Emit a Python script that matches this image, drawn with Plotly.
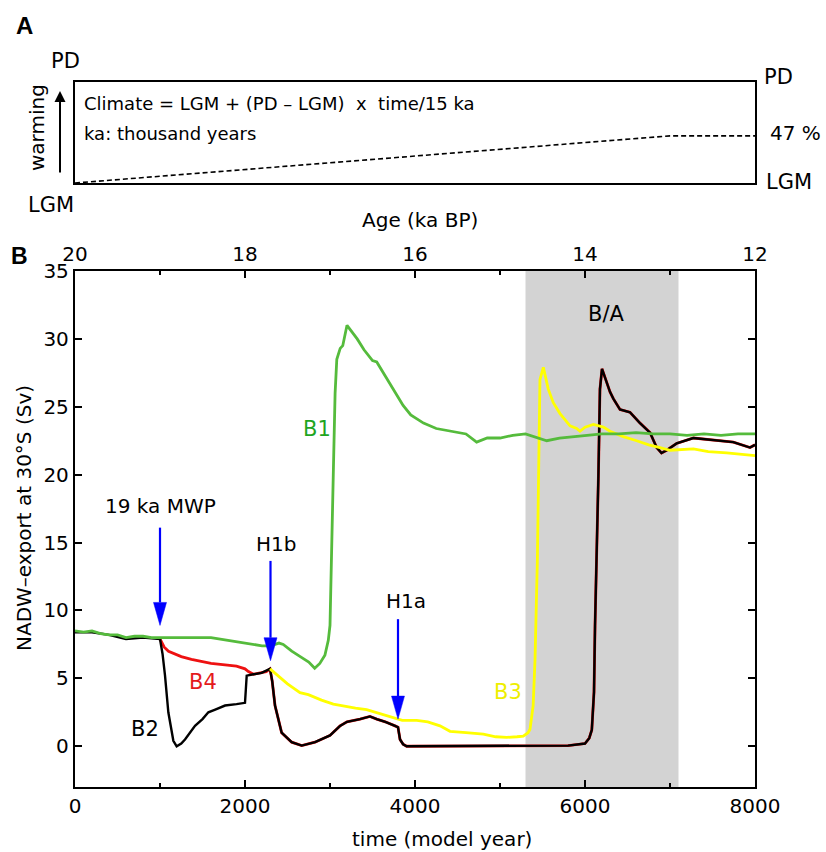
import plotly.graph_objects as go

W, H = 826, 852

# ---------------- data ----------------
# Panel A: climate forcing ramp (% of LGM->PD)
ramp_time = [0, 7000, 8000]
ramp_pct = [0, 46.7, 46.7]

# Panel B: NADW export at 30S (Sv)
b1_t = [0, 100, 200, 300, 400, 500, 600, 700, 800, 900, 1000, 1200, 1400, 1600, 1800, 2000, 2100, 2200,
        2300, 2400, 2450, 2550, 2650, 2750, 2820, 2880, 2940, 2980, 3000, 3020, 3040, 3060, 3080, 3120,
        3150, 3200, 3260, 3320, 3400, 3500, 3550, 3600, 3700, 3800, 3860, 3950, 4020, 4100, 4250, 4450,
        4600, 4725, 4850, 5000, 5150, 5300, 5400, 5550, 5700, 5850, 6000, 6200, 6400, 6600, 6800, 7000,
        7200, 7400, 7600, 7800, 8000]
b1_v = [8.5, 8.4, 8.5, 8.3, 8.2, 8.2, 8.0, 8.1, 8.1, 8.0, 8.0, 8.0, 8.0, 8.0, 7.8, 7.6, 7.5, 7.4,
        7.4, 7.6, 7.5, 7.0, 6.6, 6.2, 5.75, 6.1, 6.7, 7.8, 8.9, 13.8, 20.4, 26.0, 28.5, 29.3,
        29.5, 31.0, 30.5, 30.0, 29.2, 28.4, 28.3, 27.8, 26.8, 25.7, 25.1, 24.4, 24.1, 23.8, 23.4, 23.2,
        23.0, 22.4, 22.7, 22.7, 22.9, 23.0, 22.8, 22.5, 22.7, 22.8, 22.9, 23.0, 23.0, 23.1, 23.0, 23.0,
        22.9, 23.0, 22.9, 23.0, 23.0]

b2_head_t = [0, 200, 400, 600, 800, 1000, 1030, 1059, 1098, 1157, 1196, 1250, 1294, 1412, 1500, 1569,
             1650, 1765, 1900, 2000, 2010, 2020, 2100, 2196, 2294]
b2_head_v = [8.4, 8.4, 8.2, 7.9, 8.0, 7.9, 6.8, 5.2, 2.5, 0.4, 0.0, 0.2, 0.5, 1.5, 2.0, 2.5,
             2.7, 3.0, 3.1, 3.2, 4.2, 5.2, 5.3, 5.4, 5.7]

b4_head_t = [1000, 1050, 1100, 1140, 1250, 1370, 1500, 1600, 1765, 1900, 2000, 2040, 2100, 2200, 2250, 2294]
b4_head_v = [7.9, 7.3, 7.0, 6.9, 6.6, 6.4, 6.2, 6.1, 6.0, 5.9, 5.7, 5.5, 5.3, 5.4, 5.5, 5.7]

# common trajectory of B2 and B4 after H1b
tail_t = [2320, 2353, 2431, 2549, 2667, 2824, 3000, 3118, 3200, 3353, 3470, 3550, 3650, 3765, 3800,
          3824, 3860, 3902, 4500, 5000, 5500, 5800, 6000, 6050, 6080, 6106, 6118, 6137, 6157, 6176,
          6200, 6294, 6333, 6412, 6529, 6647, 6765, 6843, 6900, 6961, 7078, 7275, 7549, 7745, 7941, 8000]
tail_v = [4.8, 3.0, 1.0, 0.3, 0.05, 0.3, 0.8, 1.5, 1.8, 2.0, 2.2, 2.0, 1.8, 1.5, 1.4,
          0.5, 0.15, 0.0, 0.0, 0.0, 0.0, 0.05, 0.2, 0.6, 1.2, 4.0, 8.9, 13.8, 19.7, 26.3,
          27.8, 26.1, 25.6, 24.8, 24.6, 23.8, 23.1, 22.0, 21.6, 21.8, 22.3, 22.7, 22.5, 22.4, 22.0, 22.2]

b3_t = [2294, 2314, 2400, 2500, 2647, 2745, 2900, 3039, 3137, 3300, 3431, 3600, 3745, 3850, 4020, 4150,
        4294, 4412, 4600, 4804, 4950, 5078, 5200, 5274, 5330, 5353, 5390, 5412, 5440, 5450, 5470, 5510,
        5568, 5627, 5706, 5824, 5902, 5941, 6000, 6098, 6216, 6294, 6450, 6608, 6750, 6882, 7000, 7275,
        7450, 7667, 7850, 8000]
b3_v = [5.7, 5.6, 5.1, 4.6, 3.95, 3.8, 3.4, 3.1, 3.0, 2.8, 2.7, 2.4, 2.1, 1.9, 1.9, 1.8,
        1.5, 1.1, 1.0, 0.9, 0.7, 0.65, 0.7, 0.75, 1.0, 1.25, 3.0, 6.4, 13.8, 19.7, 27.0, 27.9,
        26.3, 25.3, 24.5, 23.6, 23.4, 23.2, 23.5, 23.7, 23.5, 23.2, 22.8, 22.5, 22.2, 22.0, 21.8, 21.9,
        21.7, 21.6, 21.5, 21.4]

# meltwater events
event_t = [1000, 2300, 3800]
event_top = [16.1, 13.65, 9.36]
event_tip = [8.9, 6.3, 2.0]
event_labels = ["19 ka MWP", "H1b", "H1a"]
event_label_t = [1000, 2370, 3890]
event_label_v = [17.7, 14.9, 10.7]

# Boelling/Alleroed interval (model years)
ba_start, ba_end = 5300, 7100

series_names = ["B1", "B2", "B3", "B4"]
series_label_t = [2850, 820, 5090, 1500]
series_label_v = [23.4, 1.25, 4.0, 4.75]

x_ticks = [0, 2000, 4000, 6000, 8000]
x_minor = [1000, 3000, 5000, 7000]
age_ticks = [20, 18, 16, 14, 12]
age_minor = [19, 17, 15, 13]
y_ticks = [0, 5, 10, 15, 20, 25, 30, 35]

# ---------------- styling ----------------
FONT = "DejaVu Sans, Liberation Sans, Arial, sans-serif"
BOLD_FONT = "Liberation Sans, Arial, sans-serif"
GREEN, GREEN_TXT = "#55BB3C", "#1FA51F"
YELLOW, YELLOW_TXT = "#FFFF00", "#EEEE00"
RED, RED_TXT = "#EE1111", "#E41A1C"
BLACK = "#000000"
BLUE = "#0000FF"

def px(x):
    return x / W

def py(y):
    return 1 - y / H

XL, XR = 75, 755
B_TOP, B_BOT = 271, 787
A_TOP, A_BOT = 82, 183
X_RANGE = [0, 8000]
Y_RANGE = [-3, 35]

fig = go.Figure()

# Panel A ramp
fig.add_trace(go.Scatter(x=ramp_time, y=ramp_pct, xaxis="x2", yaxis="y2", mode="lines",
                         line=dict(color="black", width=1.6, dash="5px,3px"),
                         showlegend=False, hoverinfo="skip"))

# Panel B curves
b4_t = b4_head_t + tail_t
b4_v = b4_head_v + tail_v
b2_t = b2_head_t + tail_t
b2_v = b2_head_v + tail_v
fig.add_trace(go.Scatter(x=b4_t, y=b4_v, mode="lines", line=dict(color=RED, width=2.8),
                         showlegend=False, hoverinfo="skip"))
fig.add_trace(go.Scatter(x=b2_t, y=b2_v, mode="lines", line=dict(color=BLACK, width=2.4),
                         showlegend=False, hoverinfo="skip"))
fig.add_trace(go.Scatter(x=b3_t, y=b3_v, mode="lines", line=dict(color=YELLOW, width=2.8),
                         showlegend=False, hoverinfo="skip"))
fig.add_trace(go.Scatter(x=b1_t, y=b1_v, mode="lines", line=dict(color=GREEN, width=2.8),
                         showlegend=False, hoverinfo="skip"))
# invisible trace to carry the top age axis
fig.add_trace(go.Scatter(x=[age_ticks[0], age_ticks[-1]], y=[Y_RANGE[0], Y_RANGE[0]], xaxis="x3",
                         mode="lines", opacity=0, showlegend=False, hoverinfo="skip"))

shapes = []
# B/A shading
shapes.append(dict(type="rect", xref="x", yref="y domain", x0=ba_start, x1=ba_end, y0=0, y1=1,
                   fillcolor="#D3D3D3", line=dict(width=0), layer="below"))

# event arrows (shaft + triangular head), sizes in pixels converted to data units
t_per_px = (X_RANGE[1] - X_RANGE[0]) / (XR - XL)
v_per_px = (Y_RANGE[1] - Y_RANGE[0]) / (B_BOT - B_TOP)
head_len = 23 * v_per_px
head_half = 6.5 * t_per_px
for t, top, tip in zip(event_t, event_top, event_tip):
    base = tip + head_len
    shapes.append(dict(type="line", xref="x", yref="y", x0=t, x1=t, y0=top, y1=base,
                       line=dict(color=BLUE, width=2.2)))
    shapes.append(dict(type="path", xref="x", yref="y",
                       path=f"M {t - head_half},{base} L {t + head_half},{base} L {t},{tip} Z",
                       fillcolor=BLUE, line=dict(color=BLUE, width=0.5)))

annotations = []
def txt(text, x, y, size=20, color="black", xanchor="center", bold=False, angle=0, xref="paper", yref="paper"):
    family = FONT
    if bold:
        text = f"<b>{text}</b>"
        family = BOLD_FONT
    annotations.append(dict(text=text, x=x, y=y, xref=xref, yref=yref, showarrow=False,
                            xanchor=xanchor, yanchor="middle", textangle=angle,
                            font=dict(family=family, size=size, color=color)))

# Panel A texts
txt("A", px(24), py(25), size=24, bold=True)
txt("PD", px(65), py(61), size=21)
txt("warming", px(37), py(128), size=20, angle=-90)
txt("LGM", px(51), py(205), size=21)
txt("Climate = LGM + (PD \u2013 LGM)\u00a0\u00a0x\u00a0\u00a0time/15 ka", px(82), py(103), size=18, xanchor="left")
txt("ka: thousand years", px(82), py(134), size=18, xanchor="left")
txt("PD", px(762), py(77), size=21, xanchor="left")
txt(f"{ramp_pct[-1]:.0f} %", px(768), py(133), size=20, xanchor="left")
txt("LGM", px(764), py(182), size=21, xanchor="left")

# Panel B texts
txt("Age (ka BP)", px(420), py(220), size=20)
txt("B", px(19), py(256), size=23, bold=True)
txt("NADW\u2013export at 30\u00b0S (Sv)", px(24), py(518), size=20, angle=-90)
txt("time (model year)", px(442), py(839), size=20)
txt("B/A", (ba_start + ba_end) / 2 + 50, 31.8, size=21, xref="x", yref="y")
for name, t, v, col in zip(series_names, series_label_t, series_label_v, [GREEN_TXT, BLACK, YELLOW_TXT, RED_TXT]):
    txt(name, t, v, size=21, color=col, xref="x", yref="y")
for lab, t, v in zip(event_labels, event_label_t, event_label_v):
    txt(lab, t, v, size=20, xref="x", yref="y")

# Panel A arrow (warming)
annotations.append(dict(x=px(60), y=py(91), ax=0, ay=83, xref="paper", yref="paper",
                        axref="pixel", ayref="pixel", text="", showarrow=True,
                        arrowhead=2, arrowsize=1.1, arrowwidth=2, arrowcolor="black"))

axis_common = dict(showgrid=False, zeroline=False, showline=True, linecolor="black", linewidth=2.3,
                   tickcolor="black", tickwidth=1.6, ticks="inside", ticklen=7, automargin=False,
                   tickfont=dict(family=FONT, size=20, color="black"))

fig.update_layout(
    width=W, height=H, margin=dict(l=0, r=0, t=0, b=0, autoexpand=False),
    paper_bgcolor="white", plot_bgcolor="white", showlegend=False,
    font=dict(family=FONT, color="black"),
    xaxis=dict(domain=[px(XL), px(XR)], range=X_RANGE, anchor="y", tickvals=x_ticks,
               minor=dict(tickvals=x_minor, ticks="inside", ticklen=4, tickcolor="black", tickwidth=1.6),
               **axis_common),
    yaxis=dict(domain=[py(B_BOT), py(B_TOP)], range=Y_RANGE, anchor="x", tickvals=y_ticks, mirror="ticks",
               **axis_common),
    xaxis3=dict(overlaying="x", side="top", anchor="y", range=[age_ticks[0], age_ticks[-1]],
                tickvals=age_ticks,
                minor=dict(tickvals=age_minor, ticks="inside", ticklen=4, tickcolor="black", tickwidth=1.6),
                **axis_common),
    xaxis2=dict(domain=[px(XL), px(XR)], range=X_RANGE, anchor="y2", showgrid=False, zeroline=False,
                showline=True, mirror=True, linecolor="black", linewidth=2.3, showticklabels=False,
                ticks="", automargin=False),
    yaxis2=dict(domain=[py(A_BOT), py(A_TOP)], range=[0, 100], anchor="x2", showgrid=False, zeroline=False,
                showline=True, mirror=True, linecolor="black", linewidth=2.3, showticklabels=False,
                ticks="", automargin=False),
    shapes=shapes, annotations=annotations,
)

fig.write_html("out.html")
